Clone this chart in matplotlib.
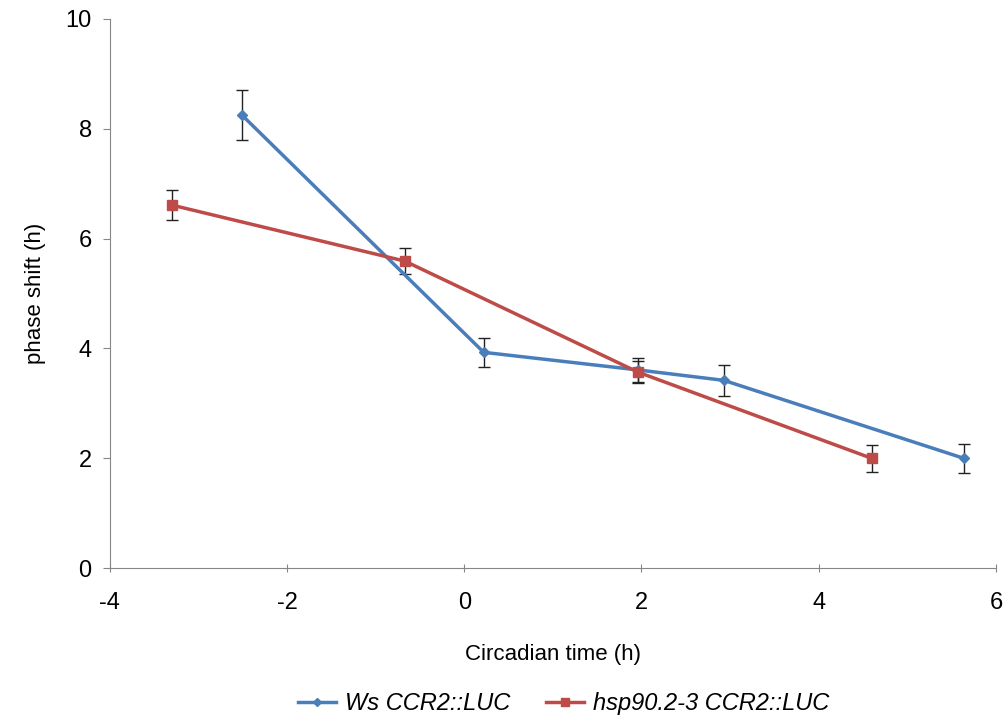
import numpy as np
import matplotlib as mpl
mpl.use('Agg')
import matplotlib.pyplot as plt

plt.rcParams['font.family'] = ['Liberation Sans', 'DejaVu Sans']
plt.rcParams['axes.unicode_minus'] = False

# Ws CCR2::LUC
ws_x = [-2.51, 0.22, 1.96, 2.93, 5.64]
ws_y = [8.25, 3.93, 3.61, 3.42, 2.00]
ws_err = [0.45, 0.26, 0.22, 0.28, 0.27]

# hsp90.2-3 CCR2::LUC
hsp_x = [-3.30, -0.67, 1.96, 4.60]
hsp_y = [6.61, 5.59, 3.57, 2.00]
hsp_err = [0.27, 0.23, 0.20, 0.24]

blue = '#4a7ebb'
red = '#be4b48'

fig = plt.figure(figsize=(10.07, 7.23), dpi=100)
ax = fig.add_axes([0.109, 0.214, 0.88, 0.76])

ax.errorbar(ws_x, ws_y, yerr=ws_err, color=blue, lw=2.5, marker='D', ms=5,
            ecolor='#222222', elinewidth=1, capsize=4, capthick=1,
            label='Ws CCR2::LUC', zorder=3)
ax.errorbar(hsp_x, hsp_y, yerr=hsp_err, color=red, lw=2.5, marker='s', ms=7,
            ecolor='#222222', elinewidth=1, capsize=4, capthick=1,
            label='hsp90.2-3 CCR2::LUC', zorder=3)

ax.set_xlim(-4, 6)
ax.set_ylim(0, 10)
ax.set_xticks(np.arange(-4, 7, 2))
ax.set_yticks(np.arange(0, 11, 2))

for s in ['top', 'right']:
    ax.spines[s].set_visible(False)
for s in ['left', 'bottom']:
    ax.spines[s].set_color('#868686')
ax.tick_params(axis='y', direction='out', length=5, color='#868686', labelsize=17, pad=8)
ax.tick_params(axis='x', direction='inout', length=6, color='#868686', labelsize=17, pad=14)

ax.set_xlabel('Circadian time (h)', fontsize=16, labelpad=22)
ax.set_ylabel('phase shift (h)', fontsize=16, labelpad=14)

handles, labels = ax.get_legend_handles_labels()
handles = [h[0] for h in handles]
leg = fig.legend(handles, labels, loc='lower center', bbox_to_anchor=(0.56, -0.018),
                 ncol=2, frameon=False, prop={'size': 17, 'style': 'italic'},
                 handlelength=1.6, columnspacing=1.5, handletextpad=0.4,
                 markerscale=0.8)

fig.savefig('out.png', dpi=100)
